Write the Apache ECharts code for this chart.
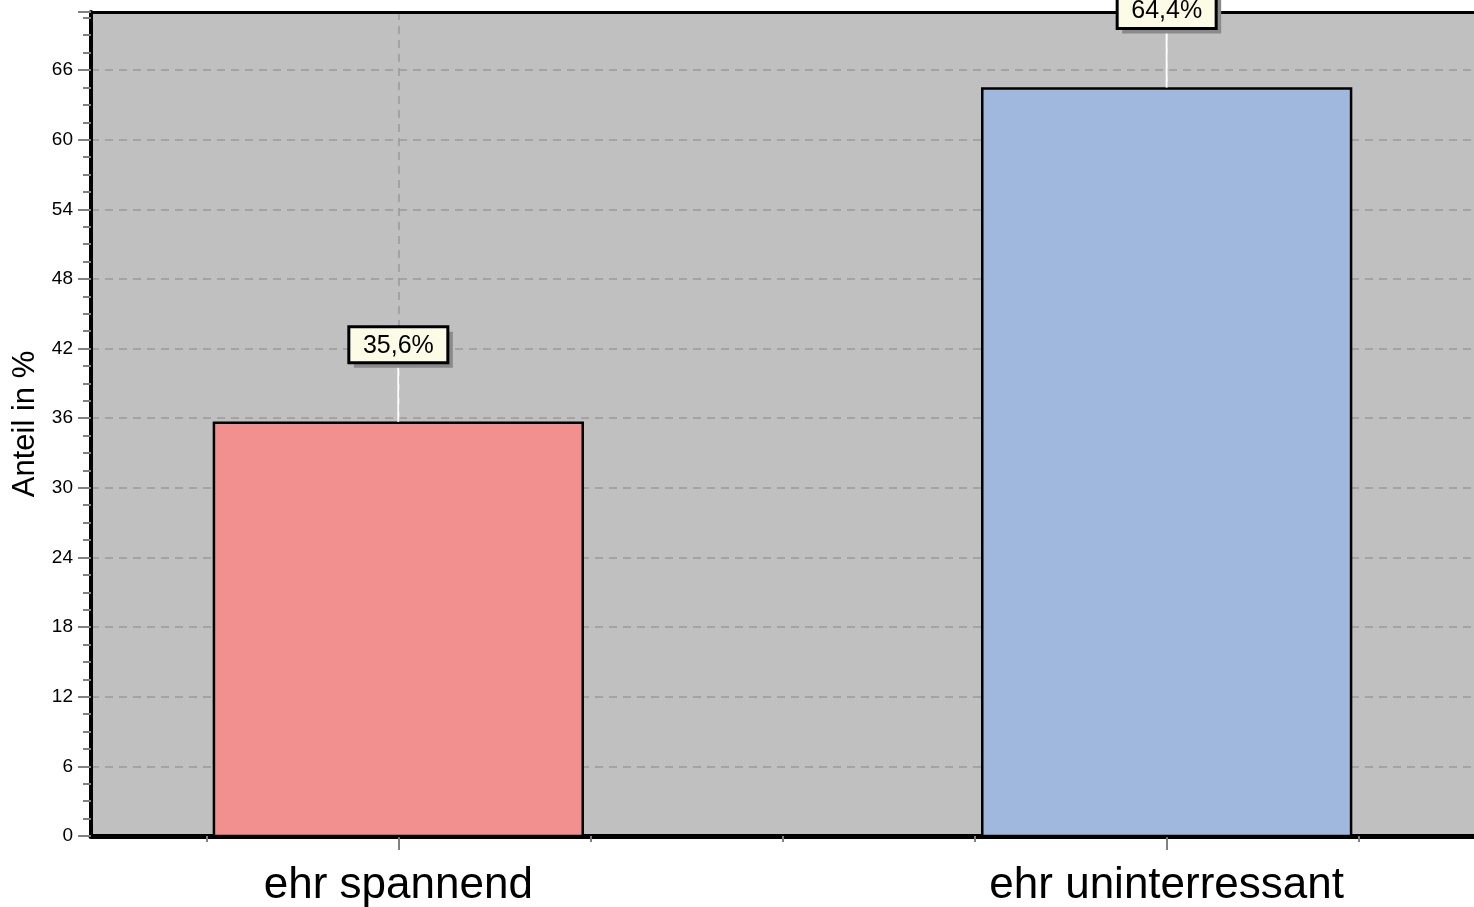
<!DOCTYPE html>
<html>
<head>
<meta charset="utf-8">
<style>
  html, body { margin: 0; padding: 0; background: #fff; }
  #chart { width: 1474px; height: 907px; }
</style>
<script src="https://cdn.jsdelivr.net/npm/echarts@6/dist/echarts.min.js"></script>
</head>
<body>
<div id="chart"></div>
<script>
// data
const categories = ['ehr spannend', 'ehr uninterressant'];
const shares = [35.6, 64.4];
const barColors = ['#f28f8f', '#a1b8de'];
const minorTickValues = [0.75, 1.25, 1.5, 1.75, 2.25];
const majorTickValues = [1, 2];

const halfBar = 0.24;
const font = 'Liberation Sans, Arial, sans-serif';

const chart = echarts.init(document.getElementById('chart'));

const barData = shares.map((v, i) => ({
  value: [i + 1, v],
  itemStyle: { color: barColors[i] },
}));

function fmt(v) {
  return v.toFixed(1).replace('.', ',') + '%';
}

function renderBar(params, api) {
  const x = api.value(0);
  const y = api.value(1);
  const p0 = api.coord([x - halfBar, 0]);
  const p1 = api.coord([x + halfBar, y]);
  const top = api.coord([x, y]);
  const color = api.visual('color');
  const boxW = 99;
  const boxH = 36;
  const boxBottom = top[1] - 60;
  const boxX = top[0] - boxW / 2;
  const boxY = boxBottom - boxH;
  return {
    type: 'group',
    children: [
      {
        type: 'rect',
        shape: { x: p0[0], y: p1[1], width: p1[0] - p0[0], height: p0[1] - p1[1] },
        style: { fill: color, stroke: '#000', lineWidth: 2.5 },
      },
      {
        type: 'line',
        shape: { x1: top[0], y1: top[1] - 1, x2: top[0], y2: boxBottom },
        style: { stroke: '#fff', lineWidth: 2 },
      },
      {
        type: 'rect',
        shape: { x: boxX + 5, y: boxY + 5, width: boxW, height: boxH },
        style: { fill: '#8a8a8a' },
      },
      {
        type: 'rect',
        shape: { x: boxX, y: boxY, width: boxW, height: boxH },
        style: { fill: '#fbfbe6', stroke: '#000', lineWidth: 3 },
      },
      {
        type: 'text',
        style: {
          x: top[0],
          y: boxY + boxH / 2 + 1,
          text: fmt(y),
          fill: '#000',
          font: '25px ' + font,
          align: 'center',
          verticalAlign: 'middle',
        },
      },
    ],
  };
}

chart.setOption({
  animation: false,
  grid: {
    left: 91,
    right: 0,
    top: 12,
    bottom: 71,
    show: true,
    backgroundColor: '#c0c0c0',
    borderWidth: 0,
    containLabel: false,
    outerBoundsMode: 'none',
  },
  xAxis: [
    {
      // minor ticks
      type: 'value',
      min: 0.6,
      max: 2.4,
      position: 'bottom',
      axisLine: { show: true, onZero: false, lineStyle: { color: '#000', width: 5 } },
      axisTick: { show: true, customValues: minorTickValues, length: 6, lineStyle: { color: '#808080', width: 2 } },
      axisLabel: { show: false },
      splitLine: { show: false },
    },
    {
      // major ticks + category names
      type: 'value',
      min: 0.6,
      max: 2.4,
      position: 'bottom',
      axisLine: { show: false, onZero: false },
      axisTick: { show: true, customValues: majorTickValues, length: 14, lineStyle: { color: '#808080', width: 2 } },
      axisLabel: {
        show: true,
        customValues: majorTickValues,
        formatter: (v) => categories[Math.round(v) - 1],
        fontSize: 44,
        fontFamily: font,
        color: '#000',
        margin: 28,
      },
      splitLine: { show: true, lineStyle: { color: '#999', type: [8, 6], width: 1.5 } },
    },
    {
      // top border
      type: 'value',
      min: 0.6,
      max: 2.4,
      position: 'top',
      axisLine: { show: true, onZero: false, lineStyle: { color: '#000', width: 3 } },
      axisTick: { show: false },
      axisLabel: { show: false },
      splitLine: { show: false },
    },
  ],
  yAxis: {
    type: 'value',
    min: 0,
    max: 71,
    interval: 6,
    name: 'Anteil in %',
    nameLocation: 'middle',
    nameGap: 46,
    nameTextStyle: { fontSize: 31, fontFamily: font, color: '#000' },
    axisLine: { show: true, lineStyle: { color: '#000', width: 4 } },
    axisTick: { show: true, length: 13, lineStyle: { color: '#808080', width: 2 } },
    minorTick: { show: true, splitNumber: 4, length: 8, lineStyle: { color: '#808080', width: 2 } },
    axisLabel: { fontSize: 19, fontFamily: font, color: '#000', margin: 18, showMaxLabel: false },
    splitLine: { show: true, lineStyle: { color: '#999', type: [8, 6], width: 1.5 } },
  },
  series: [
    {
      type: 'custom',
      xAxisIndex: 1,
      clip: false,
      renderItem: renderBar,
      data: barData,
      z: 3,
    },
  ],
});
</script>
</body>
</html>
